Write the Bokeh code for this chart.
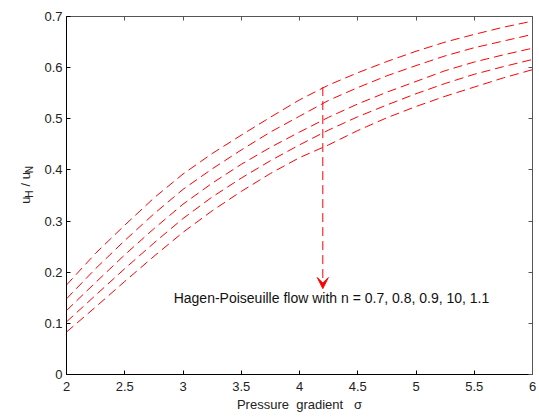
import math
from bokeh.plotting import figure
from bokeh.layouts import row
from bokeh.models import LinearAxis, FixedTicker, Range1d, Label, Arrow, VeeHead
from bokeh.embed import file_html
from bokeh.resources import INLINE

# ---- data ----
x_sigma = [2.0, 2.25, 2.5, 2.75, 3.0, 3.25, 3.5, 3.75, 4.0, 4.25, 4.5, 4.75, 5.0, 5.25, 5.5, 5.75, 6.0]
uh_n07 = [0.175, 0.237, 0.292, 0.345, 0.392, 0.432, 0.468, 0.503, 0.537, 0.566, 0.590, 0.612, 0.632, 0.650, 0.665, 0.679, 0.691]
uh_n08 = [0.148, 0.207, 0.262, 0.314, 0.362, 0.402, 0.439, 0.474, 0.505, 0.536, 0.561, 0.584, 0.604, 0.623, 0.639, 0.652, 0.665]
uh_n09 = [0.125, 0.180, 0.234, 0.285, 0.333, 0.374, 0.411, 0.444, 0.474, 0.503, 0.529, 0.552, 0.573, 0.594, 0.611, 0.625, 0.638]
uh_n10 = [0.103, 0.155, 0.207, 0.257, 0.305, 0.347, 0.384, 0.418, 0.449, 0.478, 0.504, 0.527, 0.549, 0.569, 0.587, 0.602, 0.616]
uh_n11 = [0.083, 0.132, 0.182, 0.231, 0.278, 0.320, 0.358, 0.393, 0.424, 0.449, 0.477, 0.502, 0.524, 0.544, 0.562, 0.580, 0.596]
series = [uh_n07, uh_n08, uh_n09, uh_n10, uh_n11]

x_ticks = [2, 2.5, 3, 3.5, 4, 4.5, 5, 5.5, 6]
x_tick_labels = ["2", "2.5", "3", "3.5", "4", "4.5", "5", "5.5", "6"]
y_ticks = [0, 0.1, 0.2, 0.3, 0.4, 0.5, 0.6, 0.7]
y_tick_labels = ["0", "0.1", "0.2", "0.3", "0.4", "0.5", "0.6", "0.7"]

arrow_x = 4.2
arrow_y_start = 0.562
arrow_y_end = 0.168
note_x = 2.92
note_y = 0.149
note_text = "Hagen-Poiseuille flow with n = 0.7, 0.8, 0.9, 10, 1.1"
x_label = "Pressure\u00a0\u00a0gradient\u00a0\u00a0\u00a0\u03c3"

FONT = "Liberation Sans"
W_LEFT = 40
H = 417

p = figure(width=539 - W_LEFT, height=H, x_range=Range1d(2, 6), y_range=Range1d(0, 0.7),
           output_backend="svg", toolbar_location=None,
           min_border_left=66 - W_LEFT, min_border_right=7, min_border_top=16, min_border_bottom=43)
p.background_fill_color = "white"
p.border_fill_color = "white"
p.outline_line_color = None
p.grid.visible = False

for ys in series:
    p.line(x_sigma, ys, line_color="red", line_width=1, line_dash="9 5")

def style_axis(ax, ticks, labels, show_labels, color):
    ax.minor_tick_line_color = color
    ax.axis_line_color = color
    ax.major_tick_line_color = color
    if show_labels:
        ax.ticker = FixedTicker(ticks=ticks)
        ax.major_label_overrides = {t: l for t, l in zip(ticks, labels)}
        ax.major_tick_in = 4
        ax.major_tick_out = 0
        ax.minor_tick_line_color = None
        ax.major_label_text_font = FONT
        ax.major_label_text_color = "#222222"
        ax.major_label_text_font_size = "13px"
    else:
        # ticks only (as minor ticks, which carry no labels)
        ax.ticker = FixedTicker(ticks=[], minor_ticks=ticks)
        ax.minor_tick_in = 4
        ax.minor_tick_out = 0
        ax.major_label_standoff = 0

xa = p.xaxis[0]
style_axis(xa, x_ticks, x_tick_labels, True, "black")
xa.major_label_standoff = 7
xa.axis_label = x_label
xa.axis_label_text_font = FONT
xa.axis_label_text_font_size = "13px"
xa.axis_label_text_font_style = "normal"
xa.axis_label_text_color = "#222222"
xa.axis_label_standoff = 3

ya = p.yaxis[0]
style_axis(ya, y_ticks, y_tick_labels, True, "black")
ya.major_label_standoff = 4

top = LinearAxis()
style_axis(top, x_ticks, x_tick_labels, False, "#555555")
p.add_layout(top, "above")
right = LinearAxis()
style_axis(right, y_ticks, y_tick_labels, False, "#555555")
p.add_layout(right, "right")

# arrow annotation
p.add_layout(Arrow(end=VeeHead(size=11, fill_color="red", line_color="red"),
                   x_start=arrow_x, y_start=arrow_y_start, x_end=arrow_x, y_end=arrow_y_end,
                   line_color="red", line_width=1, line_dash="9 5"))
p.add_layout(Label(x=note_x, y=note_y, text=note_text, text_font=FONT,
                   text_font_size="14px", text_color="#111111", text_baseline="middle"))

# ---- narrow side figure holding the rotated y label  u_H / u_N ----
q = figure(width=W_LEFT, height=H, x_range=Range1d(0, W_LEFT), y_range=Range1d(0, H),
           output_backend="svg", toolbar_location=None, x_axis_type=None, y_axis_type=None,
           min_border=0)
q.outline_line_color = None
q.grid.visible = False
q.background_fill_color = "white"
q.border_fill_color = "white"

# (text, baseline x px, start y px from top, font size)
pieces = [("u", 25, 218, "13px"), ("H", 29, 211, "10px"), ("/", 25, 198, "13px"),
          ("u", 25, 189.5, "13px"), ("N", 29, 182.5, "10px")]
for t, bx, sy, fs in pieces:
    q.add_layout(Label(x=bx, y=H - sy, text=t, angle=math.pi / 2,
                       text_font=FONT, text_font_size=fs, text_color="#222222",
                       text_align="left", text_baseline="alphabetic"))

layout = row(q, p, spacing=0)
open("out.html", "w").write(file_html(layout, INLINE))
